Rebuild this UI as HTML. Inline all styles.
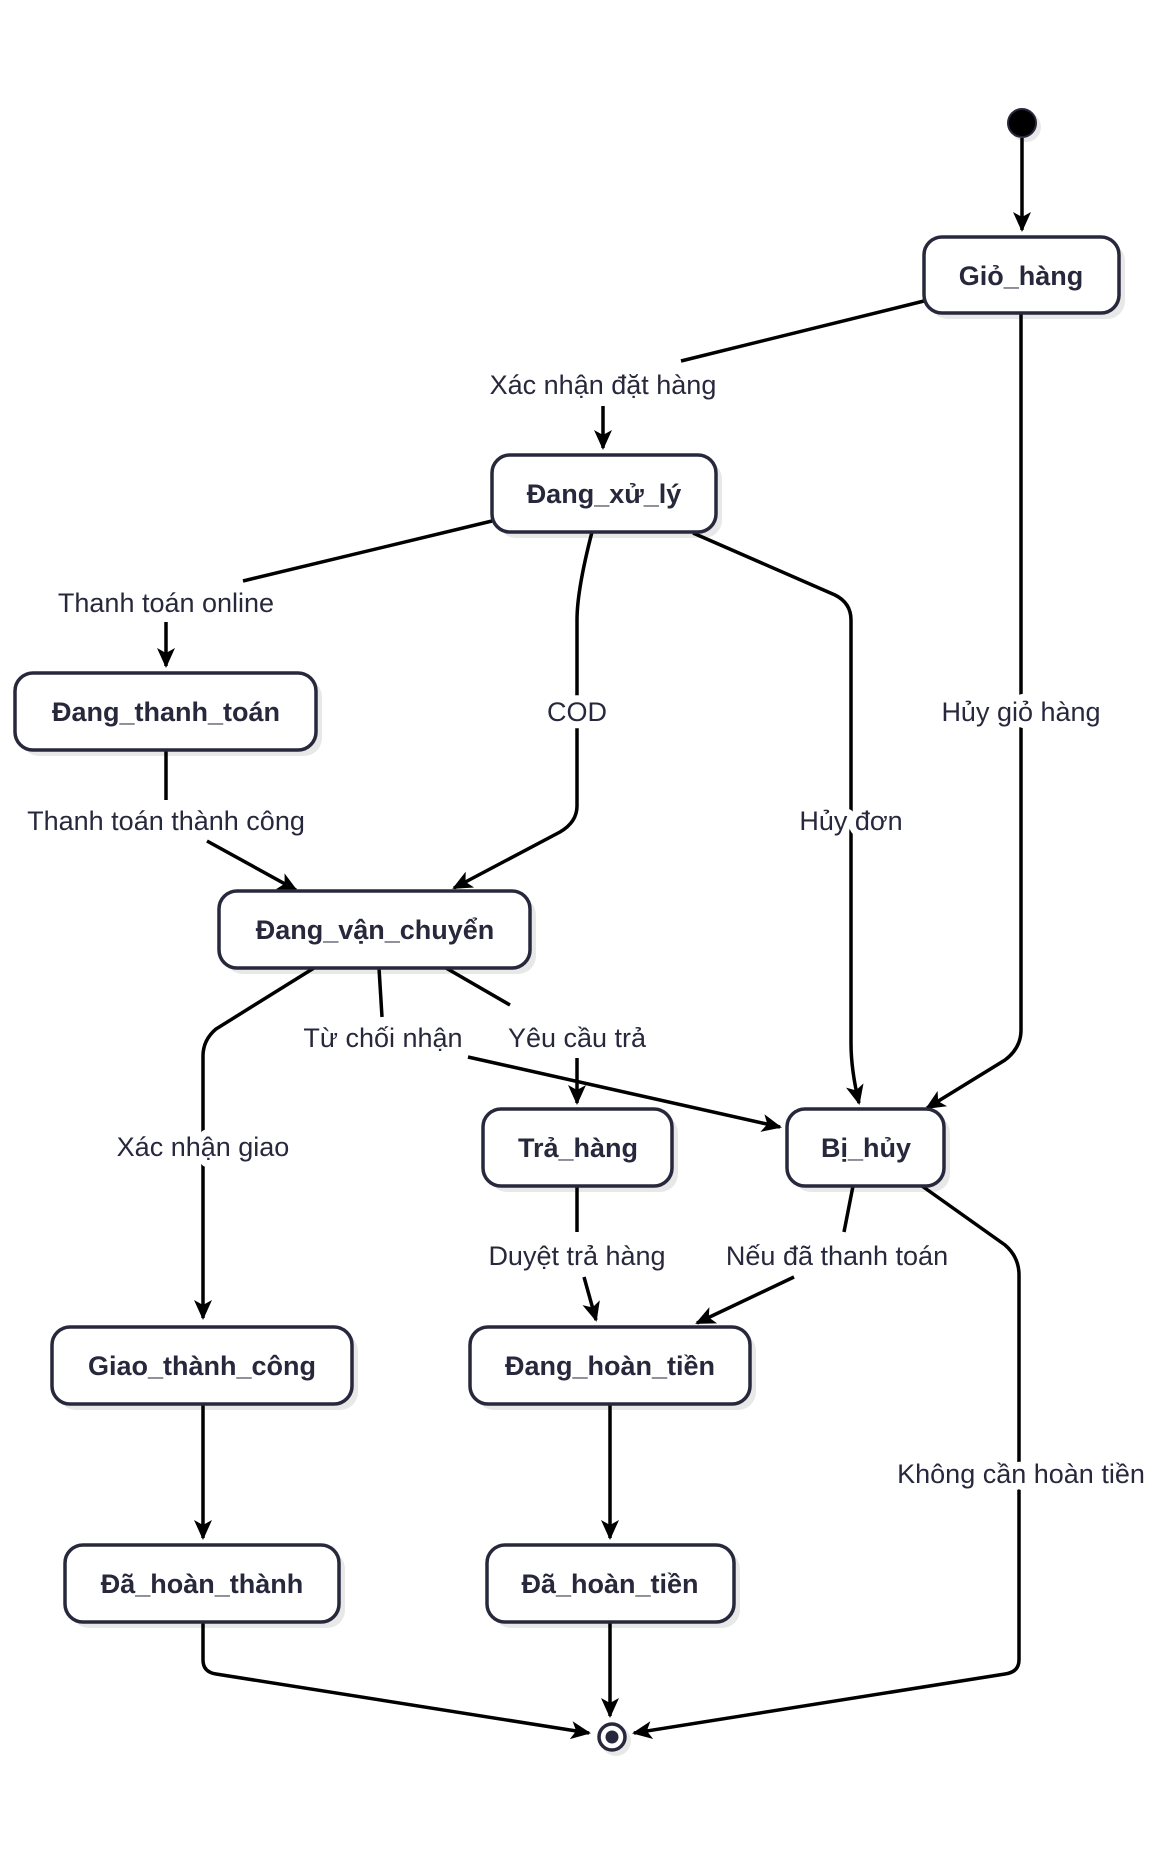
<!DOCTYPE html>
<html><head><meta charset="utf-8"><style>
html,body{margin:0;padding:0;background:#fff;}
svg{display:block;}
.n{font-family:"Liberation Sans",sans-serif;font-weight:bold;font-size:27px;fill:#28283d;}
.l{font-family:"Liberation Sans",sans-serif;font-size:27px;fill:#28283d;stroke:#fff;stroke-width:14px;paint-order:stroke;stroke-linejoin:round;}
.e{fill:none;stroke:#000;stroke-width:3.5;}
.b{fill:#fff;stroke:#28283d;stroke-width:3.5;}
.s{fill:#e8e8e8;}
</style></head><body>
<svg width="1166" height="1860" viewBox="0 0 1166 1860" xmlns="http://www.w3.org/2000/svg">
<defs>
<marker id="a" viewBox="0 0 20 20" refX="18" refY="10" markerWidth="20" markerHeight="20" markerUnits="userSpaceOnUse" orient="auto">
<path d="M0,1 L20,10 L0,19 L5,10 Z" fill="#000"/>
</marker>
</defs>

<g class="s">
<rect x="930" y="243" width="195" height="76" rx="18"/>
<rect x="498" y="461" width="224" height="77" rx="18"/>
<rect x="21" y="679" width="301" height="77" rx="18"/>
<rect x="225" y="897" width="311" height="77" rx="18"/>
<rect x="489" y="1115" width="189" height="77" rx="18"/>
<rect x="793" y="1115" width="157" height="77" rx="18"/>
<rect x="58" y="1333" width="300" height="77" rx="18"/>
<rect x="476" y="1333" width="280" height="77" rx="18"/>
<rect x="71" y="1551" width="274" height="77" rx="18"/>
<rect x="493" y="1551" width="247" height="77" rx="18"/>
<circle cx="1026" cy="127" r="15"/>
<circle cx="616" cy="1741" r="15"/>
</g>

<path class="e" d="M1022,138 L1022,230" marker-end="url(#a)"/>
<path class="e" d="M924,301 L681,361"/>
<path class="e" d="M603,406 L603,448" marker-end="url(#a)"/>
<path class="e" d="M1021,313 L1021,1030 Q1021,1048 1005,1060 L927,1108" marker-end="url(#a)"/>
<path class="e" d="M492,521 L243,581"/>
<path class="e" d="M166,622 L166,666" marker-end="url(#a)"/>
<path class="e" d="M592,532 Q577,590 577,620 L577,806 Q577,822 560,832 L454,888" marker-end="url(#a)"/>
<path class="e" d="M693,533 L835,595 Q851,603 851,620 L851,1043 Q851,1070 859,1103" marker-end="url(#a)"/>
<path class="e" d="M166,750 L166,800"/>
<path class="e" d="M207,841 L296,890" marker-end="url(#a)"/>
<path class="e" d="M314,968 L216,1029 Q203,1040 203,1056 L203,1318" marker-end="url(#a)"/>
<path class="e" d="M379,968 L382,1017"/>
<path class="e" d="M468,1057 L780,1127" marker-end="url(#a)"/>
<path class="e" d="M446,968 L510,1005"/>
<path class="e" d="M577,1058 L577,1103" marker-end="url(#a)"/>
<path class="e" d="M577,1186 L577,1232"/>
<path class="e" d="M584,1277 L596,1320" marker-end="url(#a)"/>
<path class="e" d="M853,1186 L844,1232"/>
<path class="e" d="M794,1277 L697,1323" marker-end="url(#a)"/>
<path class="e" d="M922,1186 L1005,1245 Q1019,1257 1019,1275 L1019,1660 Q1019,1672 1005,1674 L634,1733" marker-end="url(#a)"/>
<path class="e" d="M203,1404 L203,1538" marker-end="url(#a)"/>
<path class="e" d="M610,1404 L610,1538" marker-end="url(#a)"/>
<path class="e" d="M203,1622 L203,1660 Q203,1672 216,1674 L589,1733" marker-end="url(#a)"/>
<path class="e" d="M610,1622 L610,1716" marker-end="url(#a)"/>

<circle cx="1022" cy="123" r="14" fill="#000" stroke="#28283d" stroke-width="2"/>
<rect class="b" x="924" y="237" width="195" height="76" rx="18"/>
<text class="n" x="1021" y="285" text-anchor="middle">Giỏ_hàng</text>
<rect class="b" x="492" y="455" width="224" height="77" rx="18"/>
<text class="n" x="604" y="503" text-anchor="middle">Đang_xử_lý</text>
<rect class="b" x="15" y="673" width="301" height="77" rx="18"/>
<text class="n" x="166" y="721" text-anchor="middle">Đang_thanh_toán</text>
<rect class="b" x="219" y="891" width="311" height="77" rx="18"/>
<text class="n" x="375" y="939" text-anchor="middle">Đang_vận_chuyển</text>
<rect class="b" x="483" y="1109" width="189" height="77" rx="18"/>
<text class="n" x="578" y="1157" text-anchor="middle">Trả_hàng</text>
<rect class="b" x="787" y="1109" width="157" height="77" rx="18"/>
<text class="n" x="866" y="1157" text-anchor="middle">Bị_hủy</text>
<rect class="b" x="52" y="1327" width="300" height="77" rx="18"/>
<text class="n" x="202" y="1375" text-anchor="middle">Giao_thành_công</text>
<rect class="b" x="470" y="1327" width="280" height="77" rx="18"/>
<text class="n" x="610" y="1375" text-anchor="middle">Đang_hoàn_tiền</text>
<rect class="b" x="65" y="1545" width="274" height="77" rx="18"/>
<text class="n" x="202" y="1593" text-anchor="middle">Đã_hoàn_thành</text>
<rect class="b" x="487" y="1545" width="247" height="77" rx="18"/>
<text class="n" x="610" y="1593" text-anchor="middle">Đã_hoàn_tiền</text>
<circle cx="612" cy="1737" r="13" fill="#fff" stroke="#28283d" stroke-width="3.5"/>
<circle cx="612" cy="1737" r="6.5" fill="#28283d"/>

<g class="l" text-anchor="middle">
<text x="603" y="394">Xác nhận đặt hàng</text>
<text x="1021" y="721">Hủy giỏ hàng</text>
<text x="166" y="612">Thanh toán online</text>
<text x="577" y="721">COD</text>
<text x="851" y="830">Hủy đơn</text>
<text x="166" y="830">Thanh toán thành công</text>
<text x="203" y="1156">Xác nhận giao</text>
<text x="383" y="1047">Từ chối nhận</text>
<text x="577" y="1047">Yêu cầu trả</text>
<text x="577" y="1265">Duyệt trả hàng</text>
<text x="837" y="1265">Nếu đã thanh toán</text>
<text x="1021" y="1483">Không cần hoàn tiền</text>
</g>
</svg>
</body></html>
